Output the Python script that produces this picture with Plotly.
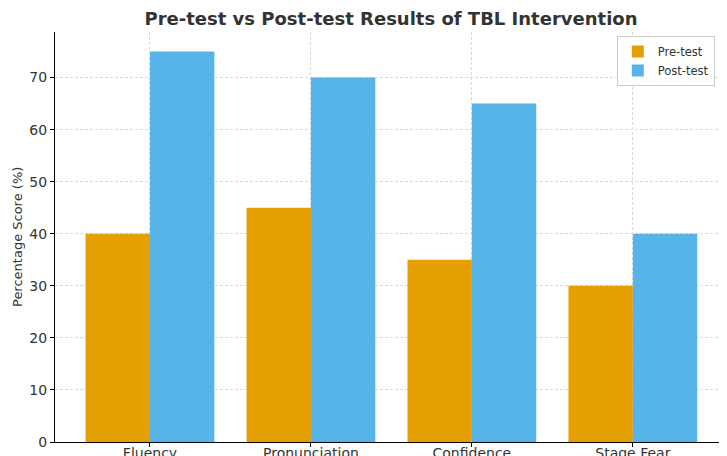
import plotly.graph_objects as go

categories = ["Fluency", "Pronunciation", "Confidence", "Stage Fear"]
pre_test = [40, 45, 35, 30]
post_test = [75, 70, 65, 40]
y_ticks = [0, 10, 20, 30, 40, 50, 60, 70]

# the page body adds an 8px offset; compensate in figure size/margins
OFF = 8
W, H = 727 - OFF, 456 - OFF

fig = go.Figure()
fig.add_trace(go.Bar(x=list(range(len(categories))), y=pre_test, name="Pre-test",
                     marker=dict(color="#E69F00", line=dict(width=0))))
fig.add_trace(go.Bar(x=list(range(len(categories))), y=post_test, name="Post-test",
                     marker=dict(color="#56B4E9", line=dict(width=0))))

grid_col = "#d9d9d9"
fig.update_layout(
    width=W, height=H,
    margin=dict(l=55 - OFF, r=0, t=32 - OFF, b=14, autoexpand=False),
    barmode="group", bargap=0.2, bargroupgap=0,
    plot_bgcolor="white", paper_bgcolor="white",
    font=dict(family="DejaVu Sans", size=13, color="#333333"),
    title=dict(text="<b>Pre-test vs Post-test Results of TBL Intervention</b>",
               x=0.5, xref="paper", xanchor="center", y=1 - (19 - OFF) / H, yref="container",
               yanchor="middle", font=dict(size=18, color="#333333")),
    legend=dict(x=0.836, y=0.99, xanchor="left", yanchor="top",
                bgcolor="rgba(255,255,255,0.9)", bordercolor="#cccccc", borderwidth=1,
                font=dict(size=11.5, color="#333333"), itemwidth=30,
                tracegroupgap=0),
    xaxis=dict(
        range=[-0.59, 3.585], tickmode="array", automargin=False,
        tickvals=list(range(len(categories))), ticktext=categories,
        showgrid=True, gridcolor=grid_col, griddash="3px,2px", gridwidth=0.8,
        showline=True, linecolor="black", linewidth=1.2,
        ticks="outside", ticklen=4, tickcolor="black", ticklabelstandoff=-6,
        tickfont=dict(size=14, color="#333333"), zeroline=False,
    ),
    yaxis=dict(
        range=[0, 78.75], tickmode="array", tickvals=y_ticks, automargin=False,
        showgrid=True, gridcolor=grid_col, griddash="3px,2px", gridwidth=0.8,
        showline=True, linecolor="black", linewidth=1.2,
        ticks="outside", ticklen=4, tickcolor="black",
        tickfont=dict(size=14, color="#333333"), zeroline=False,
    ),
    annotations=[dict(text="Percentage Score (%)", x=(17 - 55) / 672, xref="paper",
                      xanchor="center", y=0.5, yref="paper",
                      showarrow=False, textangle=-90, font=dict(size=13, color="#333333"))],
)

fig.write_html("out.html")
